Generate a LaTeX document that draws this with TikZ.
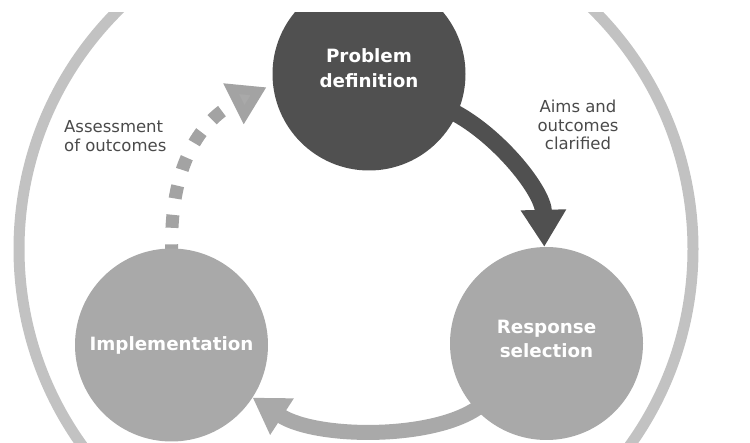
\documentclass[tikz,border=0pt]{standalone}
\usepackage{fontspec}
\setmainfont{DejaVu Sans}
\usetikzlibrary{arrows.meta,backgrounds}
\definecolor{cdark}{HTML}{505050}
\definecolor{cmid}{HTML}{A9A9A9}
\definecolor{cring}{HTML}{C2C2C2}
\definecolor{cdots}{HTML}{A3A3A3}
\definecolor{ctext}{HTML}{4A4A4A}
\begin{document}
\begin{tikzpicture}[x=1pt,y=-1pt,
  bubble/.style={circle,inner sep=0pt,minimum size=193pt},
  bubtext/.style={text=white,font=\fontsize{18.3pt}{24.5pt}\selectfont\bfseries,align=center,inner sep=0pt},
  note/.style={text=ctext,font=\fontsize{16.5pt}{18.5pt}\selectfont,inner sep=0pt},
  ringstyle/.style={circle,draw=cring,line width=11pt,inner sep=0pt,minimum size=674pt},
  darkarrow/.style={draw=cdark,line width=17pt,-{Triangle[length=37pt,width=43pt]},shorten <=-12pt},
  lightarrow/.style={draw=cmid,line width=15pt,-{Triangle[length=35pt,width=41pt]},shorten <=-12pt},
  dotarrow/.style={draw=cdots,line width=13pt,dash pattern=on 13pt off 16.5pt,-{Triangle[length=37pt,width=43pt,fill=cmid]},shorten <=-9pt,shorten >=7pt}]
\useasboundingbox (0,0) rectangle (750,443);
\clip (0,13) rectangle (750,443);
\node[ringstyle] (ring) at (356,249) {};
\node[bubble,fill=cdark,label={[bubtext,yshift=6pt]center:{Problem\\definition}}] (pd) at (369,74) {};
\node[bubble,fill=cmid,label={[bubtext,yshift=4.5pt]center:{Response\\selection}}] (rs) at (546.5,343.5) {};
\node[bubble,fill=cmid,label={[bubtext]center:Implementation}] (impl) at (171.5,345) {};
\node[note,align=center] (aims) at (578,125) {Aims and\\outcomes\\clarified};
\node[note,align=left,anchor=west] (assess) at (64,136) {Assessment\\of outcomes};
\begin{scope}[on background layer]
\draw[darkarrow] (pd) .. controls (494,130) and (543,190) .. (rs);
\draw[lightarrow] (rs) .. controls (445,440) and (318,440) .. (impl);
\draw[dotarrow] (impl.north) .. controls (168,160) and (205,118) .. (pd.186);
\end{scope}
\end{tikzpicture}
\end{document}
